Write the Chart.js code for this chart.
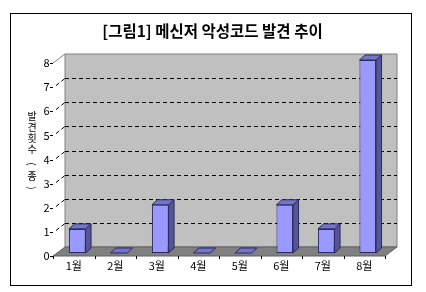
<!DOCTYPE html>
<html>
<head>
<meta charset="utf-8">
<script src="https://cdn.jsdelivr.net/npm/chart.js@4.4.1/dist/chart.umd.min.js"></script>
<style>
  html, body { margin: 0; padding: 0; background: #fff; }
  #wrap { width: 426px; height: 292px; }
</style>
</head>
<body>
<div id="wrap"><canvas id="chart" width="426" height="292"></canvas></div>
<script>
// data
const months = ['1월', '2월', '3월', '4월', '5월', '6월', '7월', '8월'];
const counts = [1, 0, 2, 0, 0, 2, 1, 8];
const yMax = 8;
const titleText = '[그림1] 메신저 악성코드 발견 추이';
const yTitleChars = ['발', '견', '횟', '수', '(', '종', ')'];

const FONT = "'Noto Sans CJK KR', 'Noto Sans', sans-serif";
Chart.defaults.font.family = FONT;
Chart.defaults.color = '#000';

// 3D offsets relative to the plane of the bar fronts (chartArea)
const FRONT = { dx: -3.5, dy: 3 };
const BACK = { dx: 8.5, dy: -6 };
const BAR_D = { dx: 5.5, dy: -5 };

function poly(ctx, pts, fill, stroke) {
    ctx.beginPath();
    ctx.moveTo(pts[0][0], pts[0][1]);
    for (let i = 1; i < pts.length; i++) ctx.lineTo(pts[i][0], pts[i][1]);
    ctx.closePath();
    if (fill) { ctx.fillStyle = fill; ctx.fill(); }
    if (stroke) { ctx.strokeStyle = stroke; ctx.lineWidth = 1; ctx.stroke(); }
}

const walls3d = {
    id: 'walls3d',
    beforeDraw(chart) {
        const ctx = chart.ctx;
        ctx.save();
        ctx.fillStyle = '#fff';
        ctx.fillRect(0, 0, chart.width, chart.height);
        ctx.strokeStyle = '#000';
        ctx.lineWidth = 1;
        ctx.strokeRect(10.5, 13.5, 401, 272);
        ctx.restore();
    },
    beforeDatasetsDraw(chart) {
        const { ctx, chartArea: a, scales: { y } } = chart;
        const fl = a.left + FRONT.dx, fr = a.right + FRONT.dx;
        const ft = a.top + FRONT.dy, fb = a.bottom + FRONT.dy;
        const bl = a.left + BACK.dx, br = a.right + BACK.dx;
        const bt = a.top + BACK.dy, bb = a.bottom + BACK.dy;
        ctx.save();
        // back wall
        poly(ctx, [[bl, bt], [br, bt], [br, bb], [bl, bb]], '#c0c0c0', '#808080');
        // left side wall top edge
        ctx.strokeStyle = '#808080';
        ctx.beginPath();
        ctx.moveTo(fl, ft); ctx.lineTo(bl, bt);
        ctx.stroke();
        // floor
        poly(ctx, [[fl, fb], [fr, fb], [br, bb], [bl, bb]], '#808080', '#606060');
        // gridlines on back wall and side wall
        ctx.strokeStyle = '#000';
        ctx.lineWidth = 1;
        ctx.setLineDash([4, 3]);
        for (let v = 1; v < yMax; v++) {
            const py = Math.round(y.getPixelForValue(v)) + 0.5;
            ctx.beginPath();
            ctx.moveTo(bl, py + BACK.dy); ctx.lineTo(br, py + BACK.dy);
            ctx.stroke();
            ctx.beginPath();
            ctx.moveTo(fl + 3, py + FRONT.dy - 2); ctx.lineTo(bl, py + BACK.dy);
            ctx.stroke();
        }
        ctx.setLineDash([]);
        // y ticks on the front edge
        for (let v = 0; v <= yMax; v++) {
            const py = Math.round(y.getPixelForValue(v) + FRONT.dy) + 0.5;
            ctx.beginPath();
            ctx.moveTo(fl - 3, py); ctx.lineTo(fl, py);
            ctx.stroke();
        }
        // x ticks under the front edge
        const n = months.length;
        for (let i = 0; i <= n; i++) {
            const px = Math.round(fl + (fr - fl) * i / n) + 0.5;
            ctx.beginPath();
            ctx.moveTo(px, fb); ctx.lineTo(px, fb + 3);
            ctx.stroke();
        }
        ctx.restore();
    },
    afterDatasetsDraw(chart) {
        const ctx = chart.ctx;
        const meta = chart.getDatasetMeta(0);
        ctx.save();
        meta.data.forEach(bar => {
            const { x, y, base, width } = bar.getProps(['x', 'y', 'base', 'width'], true);
            const x1 = x - width / 2, x2 = x + width / 2;
            // side face
            if (base - y > 0.5) {
                poly(ctx, [[x2, y], [x2 + BAR_D.dx, y + BAR_D.dy],
                    [x2 + BAR_D.dx, base + BAR_D.dy], [x2, base]], '#55559a', '#2a2a5e');
            }
            // top face
            poly(ctx, [[x1, y], [x2, y], [x2 + BAR_D.dx, y + BAR_D.dy],
                [x1 + BAR_D.dx, y + BAR_D.dy]], '#7575c8', '#2a2a5e');
        });
        ctx.restore();
    },
    afterDraw(chart) {
        const ctx = chart.ctx;
        ctx.save();
        ctx.fillStyle = '#000';
        ctx.font = '10px ' + FONT;
        ctx.textAlign = 'center';
        ctx.textBaseline = 'middle';
        const ys = [116, 127, 138, 149, 164, 176, 188];
        yTitleChars.forEach((ch, i) => {
            ctx.save();
            ctx.translate(32, ys[i]);
            if (ch === '(' || ch === ')') ctx.rotate(Math.PI / 2);
            ctx.fillText(ch, 0, 0);
            ctx.restore();
        });
        ctx.restore();
    }
};

new Chart(document.getElementById('chart'), {
    type: 'bar',
    data: {
        labels: months,
        datasets: [{
            data: counts,
            backgroundColor: '#9999ff',
            borderColor: '#2a2a5e',
            borderWidth: 1,
            borderSkipped: false,
            categoryPercentage: 1,
            barPercentage: 0.4
        }]
    },
    options: {
        responsive: false,
        animation: false,
        devicePixelRatio: 1,
        layout: { padding: { left: 36.5, right: 37.5, top: 0, bottom: 0 } },
        plugins: {
            legend: { display: false },
            tooltip: { enabled: false },
            title: {
                display: true,
                text: titleText,
                color: '#000',
                font: { size: 15.5, weight: 'bold', family: FONT },
                padding: { top: 22, bottom: 19.4 }
            }
        },
        scales: {
            x: {
                grid: { display: false, drawTicks: false },
                border: { display: false },
                ticks: { font: { size: 11 }, padding: 6, labelOffset: -3.5, maxRotation: 0 },
                afterFit(scale) { scale.height = 39; }
            },
            y: {
                min: 0,
                max: yMax,
                grid: { display: false, drawTicks: false },
                border: { display: false },
                ticks: { stepSize: 1, font: { size: 11 }, padding: 7, labelOffset: 3 },
                afterFit(scale) { scale.width = 20; }
            }
        }
    },
    plugins: [walls3d]
});
</script>
</body>
</html>
